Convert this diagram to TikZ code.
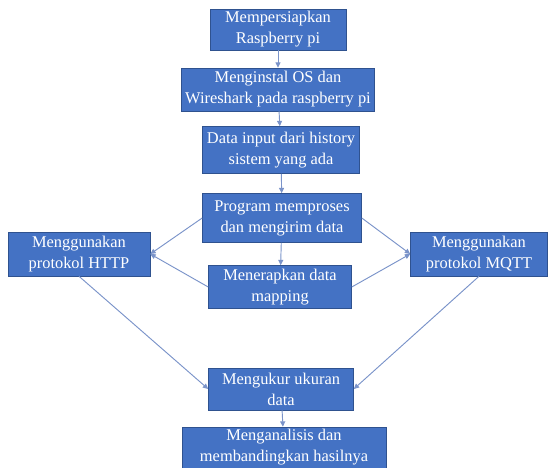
\documentclass[tikz,border=0pt]{standalone}
\usepackage{fontspec}
\setmainfont{Liberation Serif}
\usepackage{xcolor}
\usetikzlibrary{
    positioning,
    arrows.meta,
}
\definecolor{officeblue}{HTML}{4472C4}
\definecolor{officeedge}{HTML}{2F528F}
\definecolor{linkblue}{HTML}{7A93C9}
\tikzset{
    % Box styles
    stepbox/.style={rectangle, draw=officeedge, line width=0.5pt, fill=officeblue,
                    text=white, align=center, inner sep=0pt,
                    font=\fontsize{14}{18}\selectfont},
    % Arrow styles
    arrow/.style={-{Triangle[length=1.6mm, width=1.5mm]}, line width=0.8pt, draw=linkblue},
}

\begin{document}
\begin{tikzpicture}
    \useasboundingbox (0, 0) rectangle (16.59, -14.04);

    % Main steps
    \node[stepbox, minimum width=4.08cm, minimum height=1.23cm] (prep) at (8.34, -0.885) {Mempersiapkan\\Raspberry pi};
    \node[stepbox, minimum width=5.79cm, minimum height=1.29cm] (install) at (8.34, -2.685) {Menginstal OS dan\\Wireshark pada raspberry pi};
    \node[stepbox, minimum width=4.71cm, minimum height=1.41cm] (input) at (8.43, -4.50) {Data input dari history\\sistem yang ada};
    \node[stepbox, minimum width=4.77cm, minimum height=1.47cm] (program) at (8.46, -6.54) {Program memproses\\dan mengirim data};
    \node[stepbox, minimum width=4.29cm, minimum height=1.29cm] (mapping) at (8.40, -8.61) {Menerapkan data\\mapping};

    % Protocols
    \node[stepbox, minimum width=4.26cm, minimum height=1.32cm] (http) at (2.37, -7.62) {Menggunakan\\protokol HTTP};
    \node[stepbox, minimum width=4.11cm, minimum height=1.32cm] (mqtt) at (14.37, -7.62) {Menggunakan\\protokol MQTT};

    % Measurement and analysis
    \node[stepbox, minimum width=4.35cm, minimum height=1.26cm] (measure) at (8.43, -11.67) {Mengukur ukuran\\data};
    \node[stepbox, minimum width=6.12cm, minimum height=1.23cm] (analyse) at (8.52, -13.425) {Menganalisis dan\\membandingkan hasilnya};

    % Arrows
    \draw[arrow] (prep) -- (install);
    \draw[arrow] (install) -- (input);
    \draw[arrow] (input) -- (program);
    \draw[arrow] (program) -- (mapping);
    \foreach \s in {program, mapping} {
        \draw[arrow] (\s.west) -- (http.east);
        \draw[arrow] (\s.east) -- (mqtt.west);
    }
    \draw[arrow] (http.south) -- (measure.west);
    \draw[arrow] (mqtt.south) -- (measure.east);
    \draw[arrow] (measure) -- (analyse);
\end{tikzpicture}
\end{document}
